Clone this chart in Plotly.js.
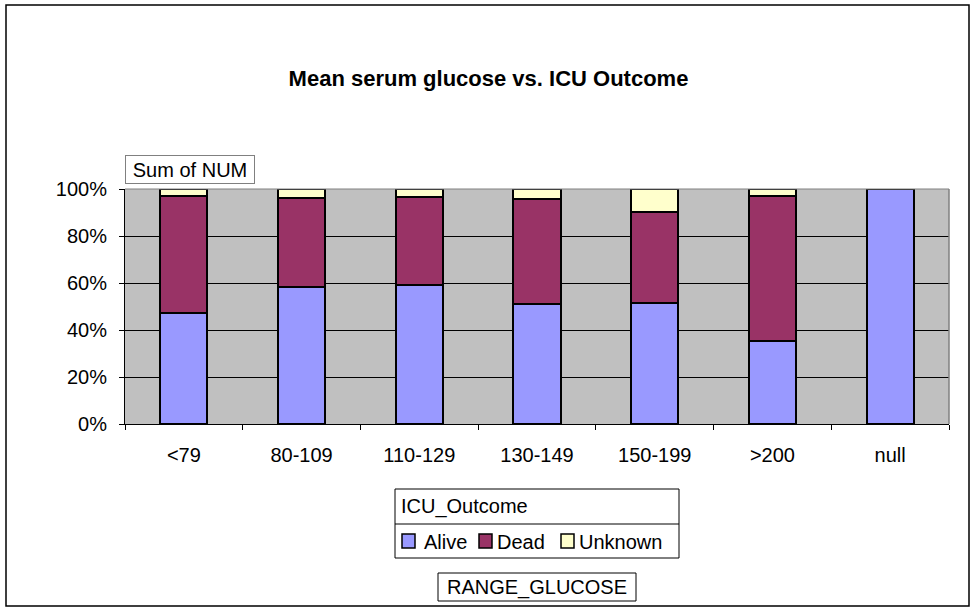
<!DOCTYPE html>
<html>
<head>
<meta charset="utf-8">
<script src="https://cdn.plot.ly/plotly-3.0.1.min.js"></script>
<style>
html,body{margin:0;padding:0;background:#fff;}
#chart{width:971px;height:607px;}
</style>
</head>
<body>
<div id="chart"></div>
<script>
// ---- data ----
const categories = ['<79', '80-109', '110-129', '130-149', '150-199', '>200', 'null'];
const alive   = [47.4, 58.4, 59.1, 51.1, 51.4, 35.5, 100];
const dead    = [49.6, 37.6, 37.6, 44.5, 39.0, 61.7, 0];
const unknown = [3.0, 4.0, 3.3, 4.4, 9.6, 2.8, 0];
const seriesNames = ['Alive', 'Dead', 'Unknown'];
const seriesColors = ['#9999FF', '#993366', '#FFFFCC'];
const yTicks = [0, 20, 40, 60, 80, 100];

// ---- layout constants (pixels) ----
const W = 971, H = 607;
const L = 125, R = 22, T = 189, B = 183;
const PW = W - L - R, PH = H - T - B;
const FONT = 'Liberation Sans, Arial, sans-serif';
const px = X => (X - L) / PW;
const py = Y => (H - B - Y) / PH;

const seriesValues = [alive, dead, unknown];
const traces = seriesNames.map((n, i) => ({
  type: 'bar',
  name: n,
  x: categories,
  y: seriesValues[i],
  width: 0.4,
  marker: {color: seriesColors[i], line: {color: '#000', width: 2}},
  hoverinfo: 'skip'
}));

// manual legend geometry
const legBox = {x0: 395, x1: 679, y0: 489, y1: 558, div: 524};
const swatchX = [402, 479, 561];
const labelX = [422, 495, 577];
const swatchY = [534, 548];

const shapes = [
  // outer chart border
  {type: 'rect', xref: 'paper', yref: 'paper', x0: px(6), x1: px(969), y0: py(5), y1: py(606),
   line: {color: '#000', width: 1.5}, fillcolor: 'rgba(0,0,0,0)', layer: 'below'},
  // plot area top & right edges (gray)
  {type: 'line', xref: 'paper', yref: 'paper', x0: 0, x1: 1, y0: 1, y1: 1, line: {color: '#808080', width: 1}},
  {type: 'line', xref: 'paper', yref: 'paper', x0: 1, x1: 1, y0: 0, y1: 1, line: {color: '#808080', width: 1.5}},
  // legend box and divider
  {type: 'rect', xref: 'paper', yref: 'paper', x0: px(legBox.x0), x1: px(legBox.x1), y0: py(legBox.y0), y1: py(legBox.y1),
   line: {color: '#000', width: 1}, fillcolor: '#fff'},
  {type: 'line', xref: 'paper', yref: 'paper', x0: px(legBox.x0), x1: px(legBox.x1), y0: py(legBox.div), y1: py(legBox.div),
   line: {color: '#000', width: 1}},
  // RANGE_GLUCOSE box
  {type: 'rect', xref: 'paper', yref: 'paper', x0: px(438), x1: px(636), y0: py(573), y1: py(601),
   line: {color: '#000', width: 1}, fillcolor: '#fff'}
];
seriesNames.forEach((n, i) => {
  shapes.push({type: 'rect', xref: 'paper', yref: 'paper',
    x0: px(swatchX[i]), x1: px(swatchX[i] + 13), y0: py(swatchY[0]), y1: py(swatchY[1]),
    line: {color: '#000', width: 1.5}, fillcolor: seriesColors[i]});
});

const annotations = [
  {text: 'Sum of NUM', xref: 'paper', yref: 'paper', x: px(125), y: py(184), xanchor: 'left', yanchor: 'bottom',
   showarrow: false, font: {family: FONT, size: 20, color: '#000'}, bgcolor: '#fff',
   bordercolor: '#808080', borderwidth: 1, borderpad: 1, width: 126, height: 25},
  {text: 'ICU_Outcome', xref: 'paper', yref: 'paper', x: px(399), y: py(506), xanchor: 'left', yanchor: 'middle',
   showarrow: false, font: {family: FONT, size: 20, color: '#000'}},
  {text: 'RANGE_GLUCOSE', xref: 'paper', yref: 'paper', x: px(537), y: py(587), xanchor: 'center', yanchor: 'middle',
   showarrow: false, font: {family: FONT, size: 20, color: '#000'}}
];
seriesNames.forEach((n, i) => {
  annotations.push({text: n, xref: 'paper', yref: 'paper', x: px(labelX[i]), y: py(541.5),
    xanchor: 'left', yanchor: 'middle', showarrow: false, font: {family: FONT, size: 20, color: '#000'}});
});

const layout = {
  width: W, height: H,
  margin: {l: L, r: R, t: T, b: B, pad: 0},
  paper_bgcolor: '#fff',
  plot_bgcolor: '#C0C0C0',
  barmode: 'stack',
  showlegend: false,
  hovermode: false,
  font: {family: FONT, size: 20, color: '#000'},
  title: {
    text: '<b>Mean serum glucose vs. ICU Outcome</b>',
    font: {family: FONT, size: 22, color: '#000'},
    xref: 'container', yref: 'container', x: 488.5 / W, y: 1 - 78 / H,
    xanchor: 'center', yanchor: 'middle'
  },
  xaxis: {
    type: 'category',
    showgrid: false,
    showline: true, linecolor: '#000', linewidth: 1,
    ticks: 'outside', tickson: 'boundaries', ticklen: 5, tickcolor: '#000', tickwidth: 1,
    ticklabelstandoff: 13,
    tickfont: {family: FONT, size: 20, color: '#000'},
    fixedrange: true
  },
  yaxis: {
    range: [0, 100],
    tickvals: yTicks,
    ticktext: yTicks.map(v => v + '%'),
    showgrid: true, gridcolor: '#000', gridwidth: 1,
    showline: true, linecolor: '#000', linewidth: 1,
    ticks: 'outside', ticklen: 5, tickcolor: '#000', tickwidth: 1,
    ticklabelstandoff: 8,
    zeroline: false,
    tickfont: {family: FONT, size: 20, color: '#000'},
    fixedrange: true
  },
  shapes: shapes,
  annotations: annotations
};

Plotly.newPlot('chart', traces, layout, {displayModeBar: false, staticPlot: true});
</script>
</body>
</html>
